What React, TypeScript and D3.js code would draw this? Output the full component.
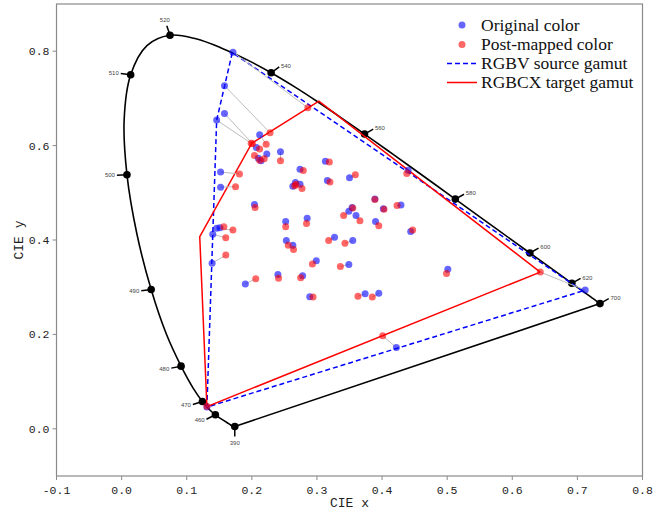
import React, { useEffect, useRef } from 'react';
import * as d3 from 'd3';

// CIE 1931 spectral locus, 390-700 nm at 5 nm
const locusX = [0.1738, 0.1736, 0.1733, 0.1730, 0.1726, 0.1721, 0.1714, 0.1703, 0.1689, 0.1669, 0.1644, 0.1611, 0.1566, 0.1510, 0.1440, 0.1355, 0.1241, 0.1096, 0.0913, 0.0687, 0.0454, 0.0235, 0.0082, 0.0039, 0.0139, 0.0389, 0.0743, 0.1142, 0.1547, 0.1929, 0.2296, 0.2658, 0.3016, 0.3373, 0.3731, 0.4087, 0.4441, 0.4788, 0.5125, 0.5448, 0.5752, 0.6029, 0.6270, 0.6482, 0.6658, 0.6801, 0.6915, 0.7006, 0.7079, 0.7140, 0.7190, 0.7230, 0.7260, 0.7283, 0.7300, 0.7311, 0.7320, 0.7327, 0.7334, 0.7340, 0.7344, 0.7346, 0.7347];
const locusY = [0.0049, 0.0049, 0.0048, 0.0048, 0.0048, 0.0048, 0.0051, 0.0058, 0.0069, 0.0086, 0.0109, 0.0138, 0.0177, 0.0227, 0.0297, 0.0399, 0.0578, 0.0868, 0.1327, 0.2007, 0.2950, 0.4127, 0.5384, 0.6548, 0.7502, 0.8120, 0.8338, 0.8262, 0.8059, 0.7816, 0.7543, 0.7243, 0.6923, 0.6589, 0.6245, 0.5896, 0.5547, 0.5202, 0.4866, 0.4544, 0.4242, 0.3965, 0.3725, 0.3514, 0.3340, 0.3197, 0.3083, 0.2993, 0.2920, 0.2859, 0.2809, 0.2770, 0.2740, 0.2717, 0.2700, 0.2689, 0.2680, 0.2673, 0.2666, 0.2660, 0.2656, 0.2654, 0.2653];
const locusNm = d3.range(390, 701, 5);
const labelNm = [390, 460, 470, 480, 490, 500, 510, 520, 540, 560, 580, 600, 620, 700];

const sourceGamut = [[0.708, 0.292], [0.170, 0.797], [0.146, 0.654], [0.131, 0.046]];
const targetGamut = [[0.643, 0.332], [0.303, 0.694], [0.200, 0.605], [0.120, 0.407], [0.131, 0.047]];

const originalColors = [
  [0.171, 0.798], [0.158, 0.727], [0.158, 0.668], [0.146, 0.654], [0.212, 0.623], [0.207, 0.596],
  [0.210, 0.573], [0.223, 0.582], [0.214, 0.568], [0.244, 0.587], [0.313, 0.567], [0.274, 0.550],
  [0.152, 0.544], [0.152, 0.512], [0.316, 0.526], [0.267, 0.522], [0.274, 0.518], [0.263, 0.514],
  [0.350, 0.532], [0.204, 0.475], [0.389, 0.487], [0.402, 0.466], [0.429, 0.474], [0.354, 0.469],
  [0.349, 0.461], [0.360, 0.452], [0.252, 0.439], [0.285, 0.446], [0.390, 0.439], [0.444, 0.418],
  [0.146, 0.425], [0.151, 0.426], [0.140, 0.412], [0.139, 0.351], [0.253, 0.399], [0.263, 0.389],
  [0.327, 0.406], [0.355, 0.399], [0.299, 0.356], [0.349, 0.348], [0.501, 0.338], [0.190, 0.307],
  [0.240, 0.327], [0.278, 0.324], [0.289, 0.280], [0.374, 0.286], [0.395, 0.287], [0.712, 0.294],
  [0.422, 0.172], [0.131, 0.046], [0.440, 0.548]
];
const mappedColors = [
  [0.286, 0.680], [0.228, 0.627], [0.201, 0.604], [0.199, 0.605], [0.222, 0.603], [0.212, 0.593],
  [0.204, 0.579], [0.219, 0.572], [0.212, 0.569], [0.244, 0.568], [0.319, 0.565], [0.279, 0.547],
  [0.181, 0.540], [0.175, 0.513], [0.320, 0.523], [0.268, 0.518], [0.277, 0.509], [0.266, 0.515],
  [0.359, 0.538], [0.205, 0.469], [0.389, 0.486], [0.403, 0.465], [0.423, 0.473], [0.355, 0.468],
  [0.341, 0.452], [0.366, 0.441], [0.252, 0.428], [0.284, 0.435], [0.395, 0.430], [0.447, 0.421],
  [0.171, 0.421], [0.157, 0.428], [0.160, 0.405], [0.160, 0.368], [0.256, 0.389], [0.264, 0.380],
  [0.318, 0.399], [0.343, 0.393], [0.293, 0.349], [0.336, 0.344], [0.499, 0.329], [0.206, 0.318],
  [0.241, 0.319], [0.275, 0.320], [0.294, 0.279], [0.363, 0.281], [0.385, 0.279], [0.643, 0.332],
  [0.401, 0.197], [0.131, 0.048], [0.438, 0.541]
];

const xTicks = [-0.1, 0, 0.1, 0.2, 0.3, 0.4, 0.5, 0.6, 0.7, 0.8];
const yTicks = [0, 0.2, 0.4, 0.6, 0.8];
const legendLabels = ['Original color', 'Post-mapped color', 'RGBV source gamut', 'RGBCX target gamut'];

const W = 670;
const H = 510;

export default function App() {
  const ref = useRef<SVGSVGElement>(null);

  useEffect(() => {
    const svg = d3.select(ref.current);
    svg.selectAll('*').remove();

    const x = d3.scaleLinear().domain([-0.1, 0.8]).range([56.5, 642.5]);
    const y = d3.scaleLinear().domain([-0.1, 0.9]).range([476, 4]);
    const tickFont = '"Liberation Mono", "DejaVu Sans Mono", monospace';

    // frame
    svg.append('rect')
      .attr('x', x(-0.1)).attr('y', y(0.9))
      .attr('width', x(0.8) - x(-0.1)).attr('height', y(-0.1) - y(0.9))
      .attr('fill', 'none').attr('stroke', '#8a8a8a').attr('stroke-width', 1.2);

    // axes ticks + labels
    const gx = svg.append('g');
    xTicks.forEach((t) => {
      gx.append('line').attr('x1', x(t)).attr('x2', x(t)).attr('y1', y(-0.1)).attr('y2', y(-0.1) + 4)
        .attr('stroke', '#8a8a8a');
      gx.append('text').attr('x', x(t)).attr('y', 494).attr('text-anchor', 'middle')
        .attr('font-family', tickFont).attr('font-size', 11.5).attr('fill', '#222')
        .text(t.toFixed(1));
    });
    const gy = svg.append('g');
    yTicks.forEach((t) => {
      gy.append('line').attr('x1', x(-0.1) - 4).attr('x2', x(-0.1)).attr('y1', y(t)).attr('y2', y(t))
        .attr('stroke', '#8a8a8a');
      gy.append('text').attr('x', x(-0.1) - 7).attr('y', y(t)).attr('dy', '0.35em').attr('text-anchor', 'end')
        .attr('font-family', tickFont).attr('font-size', 11.5).attr('fill', '#222')
        .text(t.toFixed(1));
    });
    svg.append('text').attr('x', (x(-0.1) + x(0.8)) / 2).attr('y', 507).attr('text-anchor', 'middle')
      .attr('font-family', tickFont).attr('font-size', 13).attr('fill', '#222').text('CIE x');
    svg.append('text').attr('transform', `translate(23,${(y(-0.1) + y(0.9)) / 2}) rotate(-90)`)
      .attr('text-anchor', 'middle')
      .attr('font-family', tickFont).attr('font-size', 13).attr('fill', '#222').text('CIE y');

    // spectral locus (smooth curve + purple line)
    const locus = locusNm.map((d, i) => [locusX[i], locusY[i]]);
    const line = d3.line<number[]>().x((d) => x(d[0])).y((d) => y(d[1]));
    const smooth = d3.line<number[]>().x((d) => x(d[0])).y((d) => y(d[1])).curve(d3.curveCatmullRom.alpha(0.5));
    svg.append('path').attr('d', smooth(locus))
      .attr('fill', 'none').attr('stroke', '#000').attr('stroke-width', 1.6);
    svg.append('path').attr('d', line([locus[locus.length - 1], locus[0]]))
      .attr('fill', 'none').attr('stroke', '#000').attr('stroke-width', 1.6);

    // wavelength markers
    const wp = [0.3333, 0.3333];
    const sx = x(1) - x(0);
    const sy = y(0) - y(1);
    labelNm.forEach((nm) => {
      const i = locusNm.indexOf(nm);
      const a = locus[Math.max(0, i - 1)];
      const b = locus[Math.min(locus.length - 1, i + 1)];
      let nx = -(b[1] - a[1]);
      let ny = b[0] - a[0];
      const p = locus[i];
      if (nx * (p[0] - wp[0]) + ny * (p[1] - wp[1]) < 0) { nx = -nx; ny = -ny; }
      let dx = nx * sx * 1.3;
      let dy = -ny * sy;
      const len = Math.sqrt(dx * dx + dy * dy);
      dx /= len; dy /= len;
      const px = x(p[0]);
      const py = y(p[1]);
      svg.append('line').attr('x1', px).attr('y1', py).attr('x2', px + dx * 10).attr('y2', py + dy * 10)
        .attr('stroke', '#000').attr('stroke-width', 1.5);
      svg.append('circle').attr('cx', px).attr('cy', py).attr('r', 3.8).attr('fill', '#000');
      const anchor = dx > 0.5 ? 'start' : dx < -0.5 ? 'end' : 'middle';
      const off = anchor === 'middle' ? 16 : 12;
      svg.append('text').attr('x', px + dx * off).attr('y', py + dy * off).attr('dy', '0.35em')
        .attr('text-anchor', anchor).attr('font-family', 'Arial, "Liberation Sans", sans-serif')
        .attr('font-size', 6).attr('fill', '#444').text(nm);
    });

    // gamuts
    const closed = (g: number[][]) => line(g.concat([g[0]]));
    svg.append('path').attr('d', closed(sourceGamut)).attr('fill', 'none')
      .attr('stroke', '#0000ff').attr('stroke-width', 1.5).attr('stroke-dasharray', '5,3');
    svg.append('path').attr('d', closed(targetGamut)).attr('fill', 'none')
      .attr('stroke', '#ff0000').attr('stroke-width', 1.5);

    // mapping links
    svg.append('g').selectAll('line').data(originalColors).join('line')
      .attr('x1', (d) => x(d[0])).attr('y1', (d) => y(d[1]))
      .attr('x2', (d, i) => x(mappedColors[i][0])).attr('y2', (d, i) => y(mappedColors[i][1]))
      .attr('stroke', '#bdbdbd').attr('stroke-width', 1);

    svg.append('g').selectAll('circle').data(originalColors).join('circle')
      .attr('cx', (d) => x(d[0])).attr('cy', (d) => y(d[1])).attr('r', 3.5)
      .attr('fill', '#0000ff').attr('fill-opacity', 0.6);
    svg.append('g').selectAll('circle').data(mappedColors).join('circle')
      .attr('cx', (d) => x(d[0])).attr('cy', (d) => y(d[1])).attr('r', 3.5)
      .attr('fill', '#ff0000').attr('fill-opacity', 0.6);

    // legend
    const lg = svg.append('g');
    const rows = [25, 44.5, 63.5, 82.5];
    lg.append('circle').attr('cx', 462).attr('cy', rows[0]).attr('r', 3.5).attr('fill', '#0000ff').attr('fill-opacity', 0.6);
    lg.append('circle').attr('cx', 462).attr('cy', rows[1]).attr('r', 3.5).attr('fill', '#ff0000').attr('fill-opacity', 0.6);
    lg.append('line').attr('x1', 447).attr('x2', 477).attr('y1', rows[2]).attr('y2', rows[2])
      .attr('stroke', '#0000ff').attr('stroke-width', 1.5).attr('stroke-dasharray', '5,3');
    lg.append('line').attr('x1', 447).attr('x2', 477).attr('y1', rows[3]).attr('y2', rows[3])
      .attr('stroke', '#ff0000').attr('stroke-width', 1.5);
    legendLabels.forEach((t, i) => {
      lg.append('text').attr('x', 481).attr('y', rows[i]).attr('dy', '0.33em')
        .attr('font-family', '"Liberation Serif", "Times New Roman", serif').attr('font-size', 17.5)
        .attr('fill', '#111').text(t);
    });
  }, []);

  return (
    <div style={{ position: 'absolute', left: 0, top: 0 }}>
      <svg ref={ref} width={W} height={H} style={{ display: 'block', background: '#fff' }} />
    </div>
  );
}
